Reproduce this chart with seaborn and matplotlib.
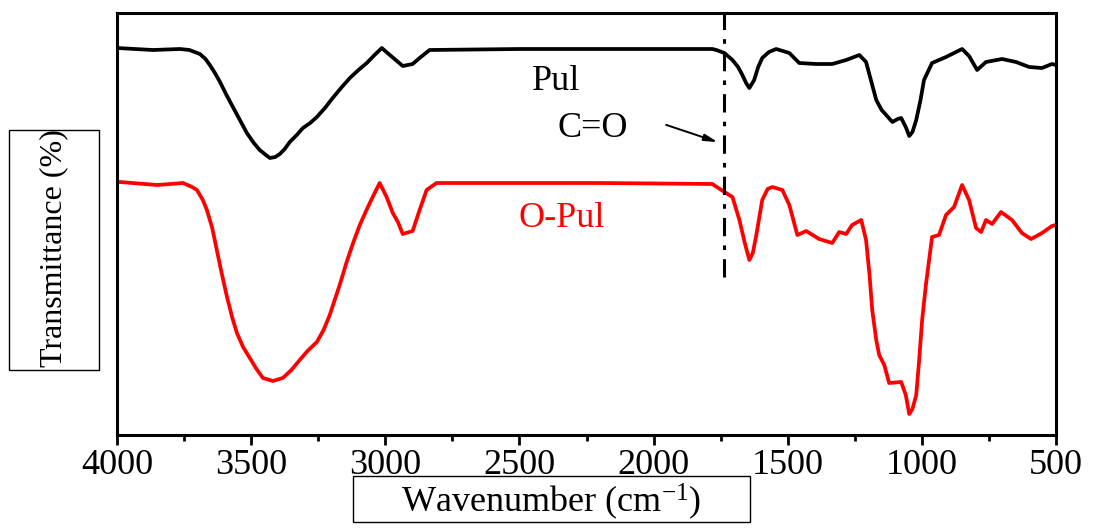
import matplotlib
matplotlib.use("Agg")
import matplotlib.pyplot as plt
from matplotlib.patches import Rectangle
from matplotlib.ticker import MultipleLocator
import seaborn as sns
import pandas as pd

# FTIR spectra (wavenumber in cm-1, transmittance in a.u.)
pul_wn = [4000, 3866, 3765, 3730, 3691, 3670, 3654, 3635, 3616, 3592, 3568, 3542,
          3516, 3490, 3468, 3445, 3430, 3410, 3393, 3375, 3356, 3330, 3307, 3280,
          3255, 3225, 3196, 3165, 3132, 3100, 3069, 3040, 3013, 2983, 2935, 2898,
          2872, 2835, 2500, 2202, 1781, 1766, 1736, 1706, 1685, 1669, 1655, 1643,
          1625, 1610, 1595, 1570, 1543, 1494, 1457, 1394, 1334, 1282, 1233, 1208,
          1190, 1170, 1150, 1133, 1110, 1090, 1077, 1060, 1047, 1035, 1021, 1005,
          992, 962, 910, 850, 824, 794, 761, 701, 649, 600, 552, 515, 500]
pul_t = [387, 385, 386, 385, 381, 376, 370, 362, 353, 340, 328, 315,
         302, 292, 285, 280, 277, 278, 281, 286, 293, 300, 307, 312,
         318, 327, 337, 347, 357, 365, 372, 380, 387, 380, 369, 371,
         377, 385, 386, 386, 386, 385, 382, 375, 368, 360, 352, 347,
         355, 368, 377, 383, 386, 382, 372, 371, 371, 375, 380, 373,
         355, 335, 325, 320, 313, 316, 317, 308, 299, 303, 315, 335,
         355, 372, 378, 386, 379, 365, 373, 376, 373, 368, 367, 371, 370]

opul_wn = [4000, 3989, 3851, 3754, 3720, 3702, 3680, 3665, 3645, 3628, 3610, 3590,
           3570, 3553, 3530, 3505, 3480, 3456, 3419, 3382, 3350, 3319, 3290, 3255,
           3230, 3207, 3170, 3144, 3120, 3095, 3070, 3047, 3021, 2995, 2972, 2953,
           2935, 2898, 2872, 2846, 2809, 2500, 2200, 1781, 1736, 1706, 1680, 1660,
           1643, 1630, 1617, 1595, 1575, 1557, 1520, 1494, 1464, 1431, 1383, 1334,
           1308, 1282, 1260, 1226, 1208, 1195, 1185, 1170, 1159, 1140, 1122, 1077,
           1060, 1047, 1035, 1021, 1010, 999, 985, 973, 962, 936, 910, 880, 850,
           824, 798, 779, 761, 738, 705, 664, 627, 593, 552, 515, 500]
opul_t = [253, 253, 250, 252, 248, 245, 235, 225, 207, 185, 162, 138,
          117, 102, 88, 77, 66, 57, 54, 57, 65, 75, 84, 93,
          105, 120, 150, 173, 192, 210, 225, 238, 252, 238, 222, 213,
          201, 204, 225, 245, 252, 252, 252, 251, 243, 238, 215, 192,
          175, 182, 200, 235, 246, 248, 245, 230, 200, 204, 196, 192,
          203, 201, 210, 215, 195, 160, 125, 95, 80, 70, 52, 53,
          40, 21, 26, 40, 75, 115, 150, 175, 198, 200, 220, 228, 250,
          235, 207, 203, 215, 211, 223, 215, 202, 196, 202, 209, 210]

co_wn = 1736
xticks = [4000, 3500, 3000, 2500, 2000, 1500, 1000, 500]

pul = pd.DataFrame({"wn": pul_wn, "T": pul_t})
opul = pd.DataFrame({"wn": opul_wn, "T": opul_t})

sns.set_style("ticks")
plt.rcParams["font.family"] = ["Liberation Serif", "DejaVu Serif"]
plt.rcParams["mathtext.fontset"] = "custom"
plt.rcParams["mathtext.rm"] = "Liberation Serif"
plt.rcParams["mathtext.it"] = "Liberation Serif:italic"
plt.rcParams["text.color"] = "black"
plt.rcParams["xtick.color"] = "black"
plt.rcParams["xtick.labelcolor"] = "black"

fig = plt.figure(figsize=(10.98, 5.28), dpi=100)
ax = fig.add_axes([117 / 1098, 1 - 435 / 528, 939 / 1098, 422 / 528])

sns.lineplot(data=pul, x="wn", y="T", color="black", lw=2.7, estimator=None, ax=ax)
sns.lineplot(data=opul, x="wn", y="T", color="#ff0000", lw=2.7, estimator=None, ax=ax)

ax.vlines(co_wn, 158, 422, colors="black", linestyles=(0, (6, 3, 1.5, 3)), lw=2.2)
ax.annotate("", xy=(co_wn + 15, 292), xytext=(1963, 311),
            arrowprops=dict(arrowstyle="-|>,head_length=0.8,head_width=0.2",
                            color="black", lw=1.4))

ax.text(2362, 345, "Pul", fontsize=26, ha="center", va="baseline", color="black")
ax.text(2228, 298, "C=O", fontsize=26, ha="center", va="baseline", color="black")
ax.text(2343, 208, "O-Pul", fontsize=26, ha="center", va="baseline", color="#ff0000")

ax.set_xlim(4000, 500)
ax.set_ylim(0, 422)
ax.set_xticks(xticks)
ax.xaxis.set_minor_locator(MultipleLocator(250))
ax.set_yticks([])
ax.set_xlabel("")
ax.set_ylabel("")
ax.tick_params(axis="x", which="major", direction="out", length=7, width=2,
               labelsize=26, pad=3)
ax.tick_params(axis="x", which="minor", direction="out", length=4, width=2)
for s in ax.spines.values():
    s.set_linewidth(2.2)
    s.set_color("black")

# boxed axis titles
fig.patches.append(Rectangle((353 / 1098, 6 / 528), 397 / 1098, 46 / 528,
                             transform=fig.transFigure, fill=False,
                             edgecolor="black", lw=1.0))
fig.text(551 / 1098, 1 - 502 / 528, "Wavenumber (cm$^{-1}$)", fontsize=26,
         ha="center", va="center")
fig.patches.append(Rectangle((9 / 1098, 158 / 528), 90 / 1098, 240 / 528,
                             transform=fig.transFigure, fill=False,
                             edgecolor="black", lw=1.0))
fig.text(54 / 1098, 1 - 248 / 528, "Transmittance (%)", fontsize=23,
         rotation=90, ha="center", va="center")

fig.savefig("out.png", dpi=100)
